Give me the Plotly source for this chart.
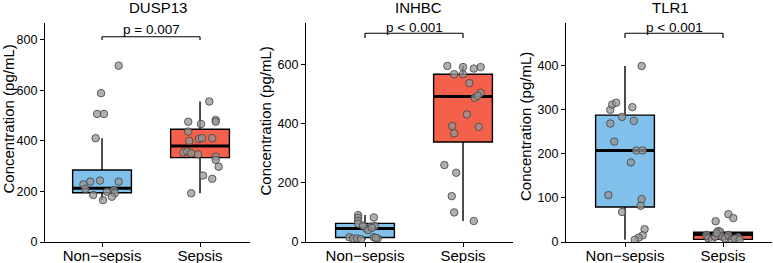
import plotly.graph_objects as go

FONT = "Arial, Liberation Sans, sans-serif"

categories = ["Non\u2212sepsis", "Sepsis"]
genes = ["DUSP13", "INHBC", "TLR1"]
p_labels = ["p = 0.007", "p < 0.001", "p < 0.001"]

# ---- point values (pg/mL) and horizontal jitter ----
dusp_ns_vals = [698, 589, 507, 507, 411, 243, 239, 239, 228, 210, 186, 199, 206, 193, 179, 166]
dusp_ns_jit = [0.17, -0.01, -0.05, 0.02, -0.065, -0.02, -0.12, 0.17, -0.19, -0.17, -0.09, 0.05, 0.12, 0.13, 0.10, 0.01]
dusp_s_vals = [556, 476, 467, 483, 476, 437, 400, 408, 411, 411, 354, 358, 351, 347, 338, 325, 298, 263, 250, 193]
dusp_s_jit = [0.095, -0.12, 0.01, 0.16, 0.16, -0.12, -0.11, -0.01, 0.02, 0.125, -0.17, -0.13, -0.09, -0.02, 0.16, 0.16, 0.19, 0.03, 0.125, -0.09]

inhbc_ns_vals = [91, 82, 72, 62, 83, 46, 52, 54, 55, 40, 16, 12, 12, 10, 16, 12, 14, 48]
inhbc_ns_jit = [-0.07, -0.07, -0.07, -0.07, 0.09, 0.01, 0.06, 0.10, -0.02, 0.03, -0.16, -0.12, -0.08, -0.04, 0.09, 0.13, 0.11, 0.07]
inhbc_s_vals = [595, 567, 591, 567, 586, 591, 537, 504, 487, 494, 431, 392, 389, 367, 260, 234, 155, 100, 71]
inhbc_s_jit = [-0.16, -0.09, 0.0, 0.0, 0.11, 0.18, 0.065, 0.18, 0.12, 0.15, 0.04, -0.11, 0.16, -0.09, -0.19, -0.07, -0.115, -0.09, 0.11]

tlr1_ns_vals = [398, 299, 311, 315, 305, 283, 274, 268, 227, 207, 207, 180, 106, 97, 82, 68, 29, 15, 10, 5]
tlr1_ns_jit = [0.17, -0.15, -0.13, -0.09, 0.075, -0.03, 0.09, -0.15, -0.11, 0.115, 0.18, 0.06, -0.17, 0.17, 0.16, -0.03, 0.20, 0.18, 0.14, 0.10]
tlr1_s_vals = [47, 63, 54, 25, 23, 16, 8, 5, 12, 8, 16, 5, 11, 8, 12, 20, 5]
tlr1_s_jit = [-0.075, 0.055, 0.105, -0.05, -0.03, -0.17, -0.15, -0.115, -0.01, 0.02, 0.055, 0.09, 0.155, 0.12, -0.08, -0.065, 0.17]

# ---- box statistics: [Non-sepsis, Sepsis] ----
dusp_q1 = [195, 334]; dusp_med = [213, 380]; dusp_q3 = [285, 446]; dusp_lo = [166, 193]; dusp_hi = [411, 556]
inhbc_q1 = [15, 338]; inhbc_med = [46, 492]; inhbc_q3 = [63, 567]; inhbc_lo = [8, 71]; inhbc_hi = [91, 596]
tlr1_q1 = [79, 6]; tlr1_med = [207, 17]; tlr1_q3 = [287, 22]; tlr1_lo = [5, 2]; tlr1_hi = [398, 26]

y_ranges = [[0, 868], [0, 741], [0, 496]]
y_ticks = [[0, 200, 400, 600, 800], [0, 200, 400, 600], [0, 100, 200, 300, 400]]

panels = [
    dict(vals=[dusp_ns_vals, dusp_s_vals], jit=[dusp_ns_jit, dusp_s_jit],
         q1=dusp_q1, med=dusp_med, q3=dusp_q3, lo=dusp_lo, hi=dusp_hi),
    dict(vals=[inhbc_ns_vals, inhbc_s_vals], jit=[inhbc_ns_jit, inhbc_s_jit],
         q1=inhbc_q1, med=inhbc_med, q3=inhbc_q3, lo=inhbc_lo, hi=inhbc_hi),
    dict(vals=[tlr1_ns_vals, tlr1_s_vals], jit=[tlr1_ns_jit, tlr1_s_jit],
         q1=tlr1_q1, med=tlr1_med, q3=tlr1_q3, lo=tlr1_lo, hi=tlr1_hi),
]

W, H = 773, 263
box_colors = ["#80C0EA", "#F4604A"]
BOX_W = 0.6

# layout geometry (pixels)
x_px = [(45, 250), (306, 513), (566, 772)]
x_rng = [[-0.582, 1.51], [-0.602, 1.51], [-0.602, 1.50]]
y_bot_px, y_top_px = 242, 22.7
title_x_px = [158, 418, 670]
ytitle_pos = [(7.5, 119), (264.5, 121), (525, 127)]
bracket_frac = [(0.936, 0.921, 0.968), (0.952, 0.930, 0.978), (0.952, 0.930, 0.978)]

fig = go.Figure()
annotations = []
shapes = []

for i, pnl in enumerate(panels):
    xa = "x" if i == 0 else f"x{i+1}"
    ya = "y" if i == 0 else f"y{i+1}"
    for c in range(2):
        fig.add_trace(go.Box(
            x=[c], q1=[pnl["q1"][c]], median=[pnl["med"][c]], q3=[pnl["q3"][c]],
            lowerfence=[pnl["lo"][c]], upperfence=[pnl["hi"][c]],
            width=BOX_W, fillcolor=box_colors[c], line=dict(color="black", width=1.4),
            whiskerwidth=0, boxpoints=False, showlegend=False, hoverinfo="skip",
            xaxis=xa, yaxis=ya))
        # thick median line
        fig.add_trace(go.Scatter(
            x=[c - BOX_W / 2, c + BOX_W / 2], y=[pnl["med"][c]] * 2, mode="lines",
            line=dict(color="black", width=3), showlegend=False, hoverinfo="skip",
            xaxis=xa, yaxis=ya))
    for c in range(2):
        fig.add_trace(go.Scatter(
            x=[c + j for j in pnl["jit"][c]], y=pnl["vals"][c], mode="markers",
            marker=dict(size=7.5, color="rgba(150,150,150,0.75)",
                        line=dict(color="rgba(70,70,70,0.85)", width=1)),
            showlegend=False, hoverinfo="skip", xaxis=xa, yaxis=ya))

    dom = [x_px[i][0] / W, x_px[i][1] / W]
    ydom = [(H - y_bot_px) / H, (H - y_top_px) / H]
    axis_common = dict(showline=True, linecolor="black", linewidth=1.2, ticks="outside",
                       ticklen=4, tickwidth=1.2, tickcolor="black", showgrid=False,
                       zeroline=False, automargin=False)
    fig.layout[("xaxis" if i == 0 else f"xaxis{i+1}")] = dict(
        domain=dom, range=x_rng[i], tickvals=[0, 1], ticktext=categories,
        tickfont=dict(family=FONT, size=15, color="black"), ticklabelstandoff=-4,
        anchor=ya, **axis_common)
    fig.layout[("yaxis" if i == 0 else f"yaxis{i+1}")] = dict(
        domain=ydom, range=y_ranges[i], tickvals=y_ticks[i],
        tickfont=dict(family=FONT, size=12.5, color="black"),
        anchor=xa, **axis_common)

    # gene title
    annotations.append(dict(text=genes[i], x=title_x_px[i] / W, y=(H - 7.5) / H,
                            xref="paper", yref="paper", showarrow=False,
                            xanchor="center", yanchor="middle",
                            font=dict(family=FONT, size=15, color="black")))
    # y-axis title
    annotations.append(dict(text="Concentration (pg/mL)", x=ytitle_pos[i][0] / W,
                            y=(H - ytitle_pos[i][1]) / H, xref="paper", yref="paper",
                            showarrow=False, textangle=-90, xanchor="center",
                            yanchor="middle",
                            font=dict(family=FONT, size=15, color="black")))
    # significance bracket
    yb, yl, yt = bracket_frac[i]
    yd = "y domain" if i == 0 else f"y{i+1} domain"
    for (x0, y0, x1, y1) in [(0, yb, 1, yb), (0, yb, 0, yl), (1, yb, 1, yl)]:
        shapes.append(dict(type="line", xref=xa, yref=yd, x0=x0, x1=x1, y0=y0, y1=y1,
                           line=dict(color="black", width=1.2)))
    annotations.append(dict(text=p_labels[i], x=0.5, y=yt, xref=xa, yref=yd,
                            showarrow=False, xanchor="center", yanchor="middle",
                            font=dict(family=FONT, size=13.5, color="black")))

fig.update_layout(width=W, height=H, margin=dict(l=0, r=0, t=0, b=0),
                  plot_bgcolor="white", paper_bgcolor="white",
                  annotations=annotations, shapes=shapes, showlegend=False)

fig.write_html("out.html", config={"displayModeBar": False},
               post_script="document.body.style.margin='0';document.body.style.overflow='hidden';")
